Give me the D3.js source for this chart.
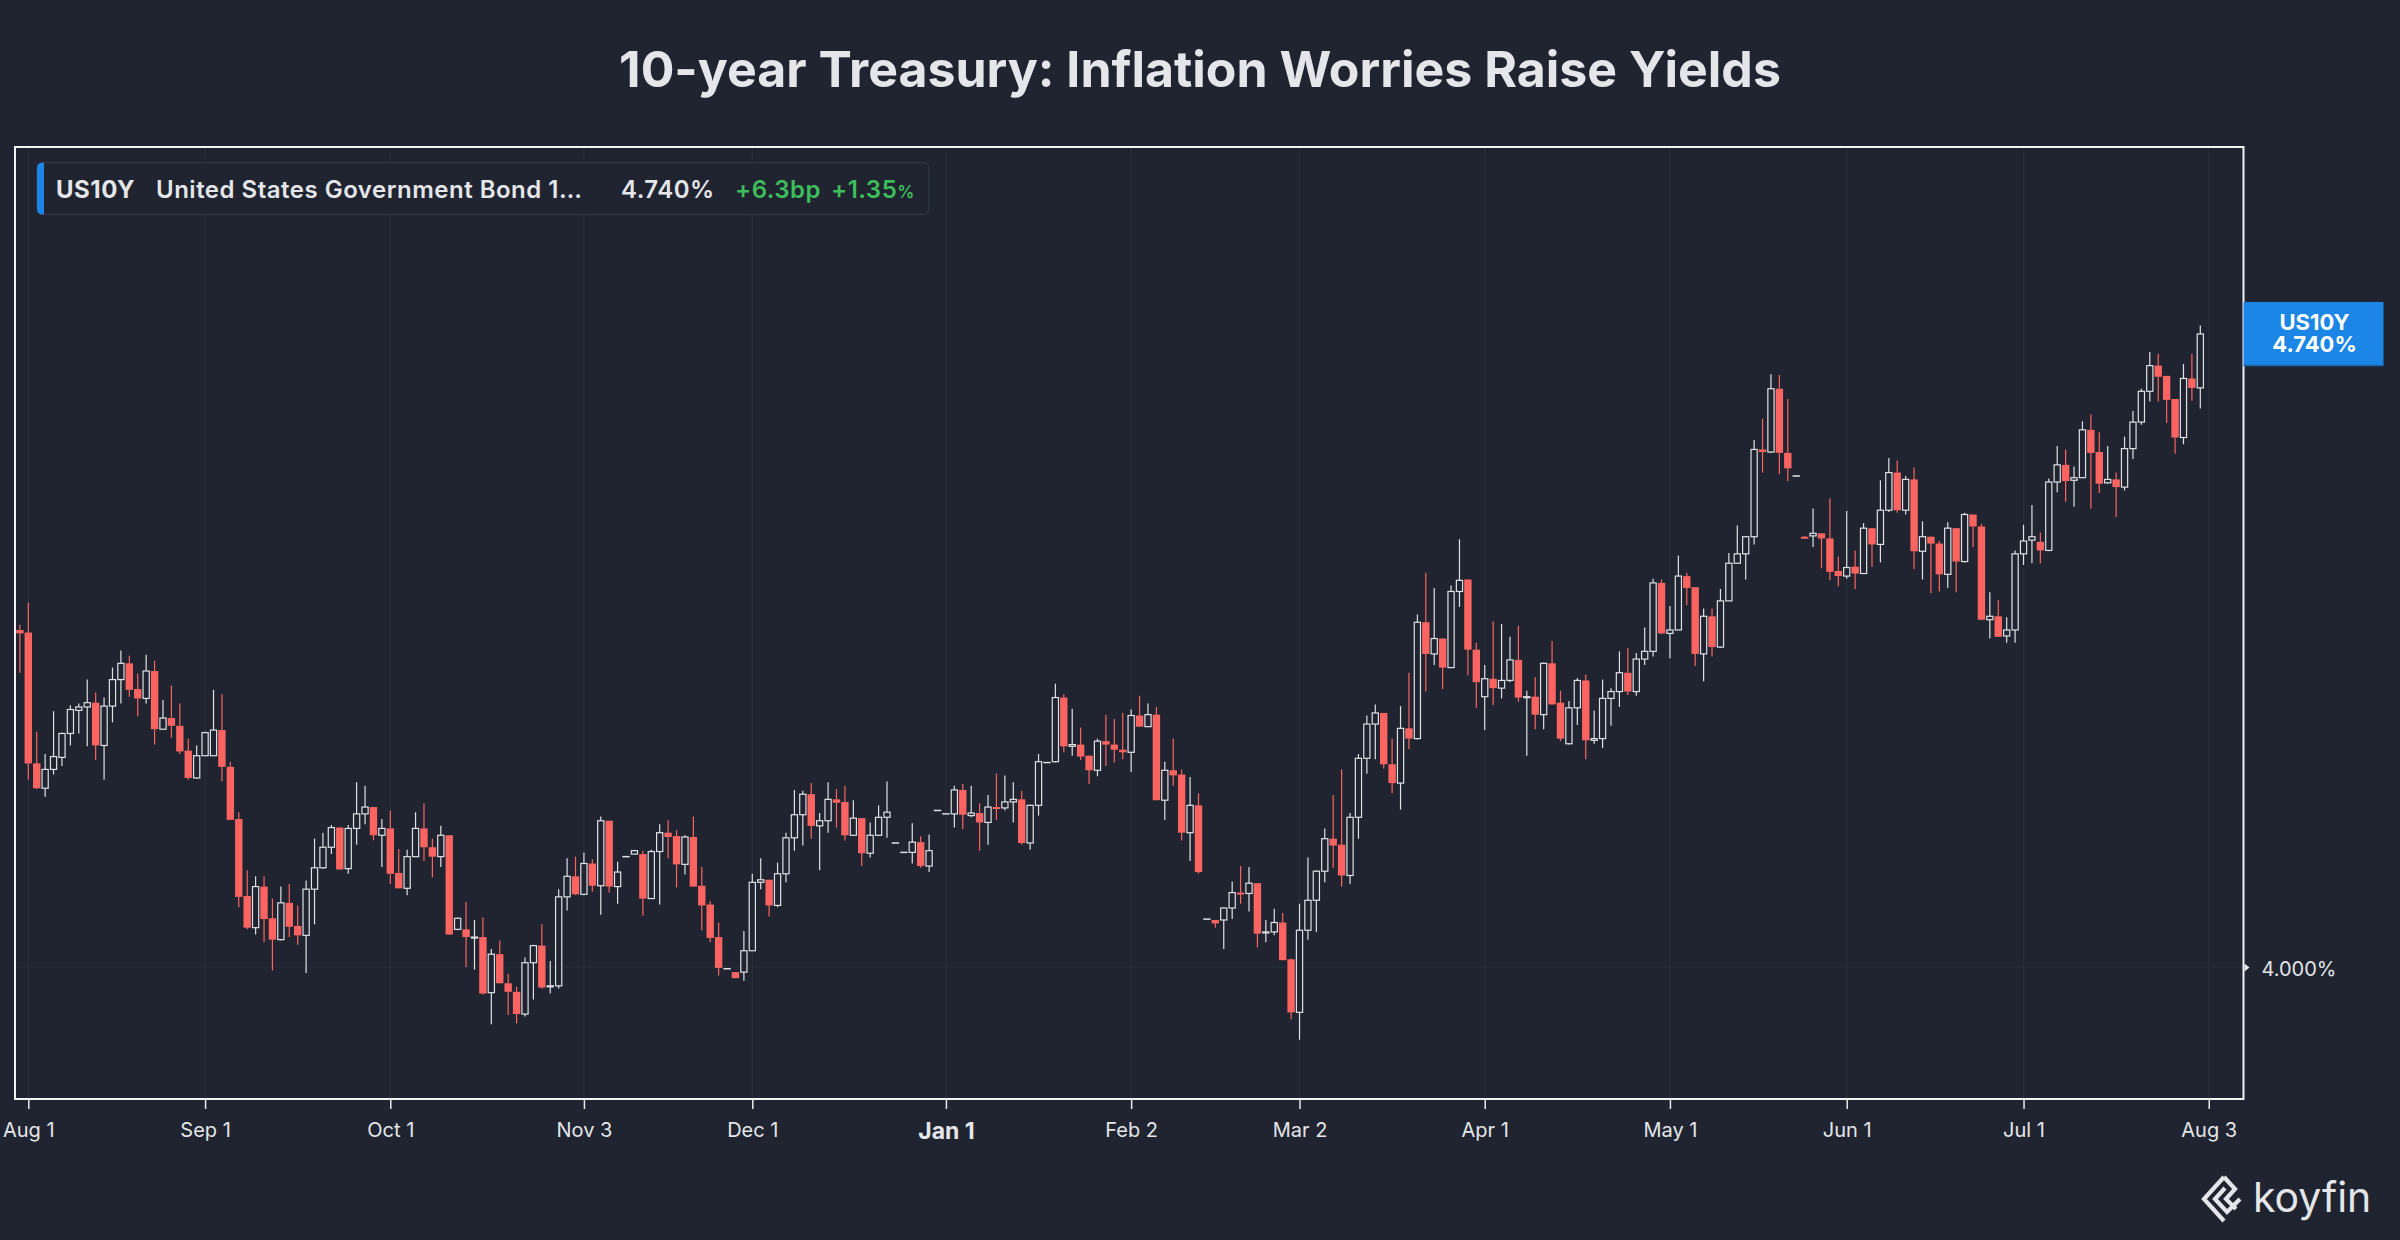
<!DOCTYPE html>
<meta charset="utf-8">
<style>
  body { margin: 0; background: #1f2430; }
  svg { display: block; font-family: Inter, "Noto Sans", sans-serif; }
</style>
<body>
<script src="https://d3js.org/d3.v7.min.js"></script>
<script>
// daily OHLC, one slot per trading day (slot 0 = Jul 31)
var openVals = [
  4.394, 4.391, 4.238, 4.209, 4.231, 4.245, 4.273, 4.300, 4.304, 4.309,
  4.259, 4.305, 4.336, 4.355, 4.325, 4.314, 4.346, 4.278, 4.291, 4.282,
  4.253, 4.221, 4.247, 4.247, 4.277, 4.234, 4.173, 4.083, 4.046, 4.094,
  4.057, 4.032, 4.075, 4.048, 4.037, 4.091, 4.116, 4.140, 4.163, 4.115,
  4.162, 4.179, 4.187, 4.154, 4.162, 4.110, 4.092, 4.129, 4.162, 4.140,
  4.129, 4.154, 4.044, 4.044, 4.035, 4.035, 3.970, 4.015, 3.981, 3.971,
  3.945, 4.005, 4.025, 3.977, 3.978, 4.082, 4.106, 4.085, 4.121, 4.095,
  4.171, 4.094, 4.129, 4.132, 4.132, 4.080, 4.135, 4.157, 4.153, 4.120,
  4.152, 4.095, 4.073, 4.035, 3.998, 3.994, 3.994, 4.019, 4.099, 4.102,
  4.072, 4.109, 4.151, 4.178, 4.202, 4.165, 4.171, 4.196, 4.193, 4.154,
  4.174, 4.133, 4.154, 4.175, 4.145, 4.134, 4.134, 4.146, 4.118, 4.183,
  4.179, 4.179, 4.207, 4.177, 4.180, 4.169, 4.187, 4.186, 4.193, 4.196,
  4.145, 4.189, 4.239, 4.240, 4.315, 4.258, 4.260, 4.247, 4.230, 4.264,
  4.260, 4.254, 4.251, 4.294, 4.281, 4.295, 4.195, 4.230, 4.225, 4.157,
  4.189, 4.056, 4.055, 4.055, 4.069, 4.087, 4.086, 4.098, 4.040, 4.041,
  4.052, 4.009, 3.947, 4.043, 4.078, 4.112, 4.150, 4.143, 4.107, 4.175,
  4.244, 4.284, 4.297, 4.237, 4.215, 4.279, 4.267, 4.403, 4.366, 4.384,
  4.350, 4.439, 4.453, 4.371, 4.316, 4.337, 4.326, 4.335, 4.359, 4.315,
  4.316, 4.295, 4.355, 4.309, 4.261, 4.303, 4.335, 4.265, 4.267, 4.314,
  4.322, 4.344, 4.322, 4.360, 4.369, 4.449, 4.390, 4.394, 4.457, 4.444,
  4.366, 4.410, 4.374, 4.428, 4.472, 4.483, 4.503, 4.605, 4.602, 4.676,
  4.601, 4.574, 4.503, 4.504, 4.507, 4.501, 4.463, 4.457, 4.468, 4.460,
  4.513, 4.494, 4.534, 4.578, 4.534, 4.570, 4.486, 4.503, 4.495, 4.459,
  4.513, 4.474, 4.529, 4.515, 4.406, 4.410, 4.387, 4.394, 4.483, 4.499,
  4.497, 4.487, 4.567, 4.587, 4.569, 4.572, 4.628, 4.602, 4.566, 4.570,
  4.561, 4.606, 4.637, 4.673, 4.703, 4.691, 4.664, 4.619, 4.688, 4.677
];
var highVals = [
  4.400, 4.426, 4.275, 4.249, 4.299, 4.274, 4.306, 4.308, 4.336, 4.321,
  4.315, 4.350, 4.370, 4.364, 4.343, 4.365, 4.358, 4.312, 4.329, 4.308,
  4.267, 4.259, 4.275, 4.324, 4.319, 4.240, 4.181, 4.113, 4.106, 4.106,
  4.080, 4.094, 4.097, 4.072, 4.101, 4.150, 4.157, 4.166, 4.163, 4.166,
  4.216, 4.212, 4.187, 4.173, 4.183, 4.138, 4.137, 4.181, 4.191, 4.150,
  4.165, 4.154, 4.058, 4.076, 4.055, 4.058, 4.021, 4.031, 3.992, 3.977,
  4.011, 4.026, 4.050, 4.007, 4.091, 4.127, 4.129, 4.134, 4.126, 4.176,
  4.171, 4.123, 4.129, 4.137, 4.136, 4.137, 4.167, 4.172, 4.160, 4.154,
  4.176, 4.117, 4.077, 4.052, 3.998, 3.994, 4.042, 4.109, 4.127, 4.102,
  4.122, 4.157, 4.207, 4.206, 4.215, 4.180, 4.216, 4.208, 4.212, 4.195,
  4.174, 4.169, 4.189, 4.217, 4.145, 4.134, 4.168, 4.153, 4.155, 4.183,
  4.179, 4.212, 4.214, 4.212, 4.191, 4.201, 4.226, 4.224, 4.216, 4.206,
  4.190, 4.249, 4.239, 4.331, 4.319, 4.302, 4.280, 4.247, 4.267, 4.295,
  4.290, 4.297, 4.301, 4.317, 4.308, 4.304, 4.240, 4.267, 4.231, 4.222,
  4.203, 4.056, 4.055, 4.070, 4.100, 4.118, 4.117, 4.098, 4.055, 4.068,
  4.063, 4.010, 4.074, 4.128, 4.113, 4.162, 4.201, 4.231, 4.180, 4.249,
  4.294, 4.307, 4.297, 4.267, 4.305, 4.344, 4.412, 4.461, 4.443, 4.384,
  4.446, 4.500, 4.453, 4.379, 4.353, 4.404, 4.401, 4.386, 4.399, 4.323,
  4.339, 4.356, 4.381, 4.323, 4.311, 4.338, 4.342, 4.300, 4.336, 4.326,
  4.369, 4.373, 4.367, 4.397, 4.454, 4.453, 4.422, 4.481, 4.461, 4.444,
  4.419, 4.419, 4.442, 4.484, 4.516, 4.504, 4.616, 4.641, 4.693, 4.692,
  4.664, 4.574, 4.504, 4.536, 4.507, 4.548, 4.480, 4.533, 4.487, 4.519,
  4.513, 4.569, 4.595, 4.592, 4.574, 4.584, 4.521, 4.503, 4.498, 4.520,
  4.513, 4.531, 4.529, 4.518, 4.438, 4.429, 4.409, 4.487, 4.517, 4.540,
  4.508, 4.571, 4.609, 4.605, 4.585, 4.638, 4.646, 4.625, 4.609, 4.578,
  4.620, 4.650, 4.676, 4.719, 4.717, 4.691, 4.664, 4.705, 4.717, 4.750
];
var lowVals = [
  4.344, 4.219, 4.208, 4.199, 4.225, 4.235, 4.259, 4.273, 4.258, 4.242,
  4.219, 4.286, 4.308, 4.316, 4.293, 4.308, 4.260, 4.277, 4.268, 4.249,
  4.219, 4.220, 4.247, 4.247, 4.217, 4.172, 4.070, 4.044, 4.038, 4.029,
  3.996, 4.031, 4.035, 4.026, 3.993, 4.050, 4.115, 4.132, 4.114, 4.109,
  4.143, 4.167, 4.148, 4.117, 4.097, 4.092, 4.084, 4.129, 4.124, 4.105,
  4.117, 4.038, 4.043, 4.000, 3.997, 3.968, 3.933, 3.981, 3.944, 3.934,
  3.942, 3.962, 3.975, 3.969, 3.975, 4.066, 4.084, 4.084, 4.088, 4.061,
  4.087, 4.074, 4.129, 4.132, 4.060, 4.080, 4.073, 4.127, 4.093, 4.108,
  4.094, 4.043, 4.029, 3.990, 3.998, 3.987, 3.984, 4.019, 4.091, 4.059,
  4.070, 4.099, 4.136, 4.142, 4.150, 4.113, 4.157, 4.163, 4.148, 4.154,
  4.118, 4.128, 4.153, 4.151, 4.145, 4.134, 4.121, 4.116, 4.111, 4.183,
  4.179, 4.163, 4.161, 4.175, 4.136, 4.143, 4.172, 4.183, 4.169, 4.143,
  4.137, 4.177, 4.239, 4.239, 4.251, 4.247, 4.242, 4.214, 4.223, 4.235,
  4.239, 4.243, 4.228, 4.281, 4.281, 4.195, 4.172, 4.212, 4.148, 4.124,
  4.109, 4.056, 4.046, 4.021, 4.056, 4.074, 4.065, 4.023, 4.029, 4.037,
  4.008, 3.939, 3.915, 4.032, 4.041, 4.099, 4.116, 4.094, 4.097, 4.150,
  4.226, 4.243, 4.232, 4.203, 4.184, 4.255, 4.266, 4.322, 4.353, 4.325,
  4.350, 4.421, 4.341, 4.303, 4.277, 4.306, 4.314, 4.333, 4.310, 4.247,
  4.278, 4.278, 4.307, 4.264, 4.260, 4.283, 4.243, 4.261, 4.256, 4.282,
  4.304, 4.318, 4.317, 4.353, 4.363, 4.389, 4.361, 4.394, 4.423, 4.352,
  4.334, 4.363, 4.373, 4.428, 4.471, 4.453, 4.494, 4.578, 4.601, 4.576,
  4.568, 4.574, 4.501, 4.491, 4.466, 4.452, 4.445, 4.454, 4.442, 4.460,
  4.468, 4.473, 4.532, 4.531, 4.529, 4.465, 4.453, 4.437, 4.439, 4.443,
  4.438, 4.473, 4.491, 4.406, 4.384, 4.386, 4.379, 4.379, 4.470, 4.472,
  4.472, 4.486, 4.555, 4.544, 4.538, 4.572, 4.536, 4.554, 4.565, 4.526,
  4.557, 4.594, 4.634, 4.661, 4.661, 4.636, 4.600, 4.611, 4.662, 4.653
];
var closeVals = [
  4.390, 4.238, 4.209, 4.231, 4.246, 4.273, 4.301, 4.304, 4.309, 4.259,
  4.305, 4.336, 4.355, 4.324, 4.314, 4.346, 4.278, 4.291, 4.282, 4.252,
  4.221, 4.247, 4.274, 4.277, 4.234, 4.172, 4.082, 4.046, 4.094, 4.056,
  4.032, 4.075, 4.047, 4.037, 4.091, 4.116, 4.140, 4.163, 4.114, 4.162,
  4.179, 4.187, 4.154, 4.162, 4.109, 4.092, 4.129, 4.162, 4.140, 4.129,
  4.154, 4.038, 4.057, 4.035, 4.035, 3.969, 4.015, 3.981, 3.971, 3.945,
  4.005, 4.025, 3.976, 3.978, 4.082, 4.106, 4.085, 4.121, 4.095, 4.171,
  4.094, 4.111, 4.129, 4.136, 4.080, 4.135, 4.157, 4.152, 4.120, 4.152,
  4.094, 4.072, 4.034, 3.999, 3.998, 3.987, 4.019, 4.099, 4.102, 4.072,
  4.109, 4.151, 4.178, 4.202, 4.165, 4.171, 4.196, 4.192, 4.154, 4.174,
  4.133, 4.154, 4.175, 4.181, 4.145, 4.134, 4.146, 4.118, 4.136, 4.183,
  4.179, 4.207, 4.178, 4.180, 4.169, 4.187, 4.186, 4.193, 4.196, 4.145,
  4.189, 4.240, 4.239, 4.315, 4.258, 4.260, 4.246, 4.230, 4.264, 4.260,
  4.254, 4.251, 4.294, 4.281, 4.295, 4.195, 4.230, 4.224, 4.157, 4.189,
  4.111, 4.056, 4.051, 4.069, 4.087, 4.086, 4.098, 4.039, 4.041, 4.052,
  4.008, 3.947, 4.043, 4.078, 4.112, 4.150, 4.142, 4.107, 4.175, 4.244,
  4.284, 4.297, 4.237, 4.215, 4.279, 4.267, 4.403, 4.366, 4.384, 4.350,
  4.439, 4.452, 4.371, 4.333, 4.337, 4.326, 4.335, 4.359, 4.315, 4.316,
  4.295, 4.355, 4.307, 4.267, 4.303, 4.335, 4.265, 4.267, 4.314, 4.322,
  4.344, 4.322, 4.360, 4.369, 4.449, 4.390, 4.394, 4.457, 4.443, 4.366,
  4.410, 4.374, 4.428, 4.472, 4.483, 4.503, 4.605, 4.602, 4.676, 4.601,
  4.583, 4.574, 4.501, 4.507, 4.501, 4.462, 4.457, 4.467, 4.460, 4.513,
  4.494, 4.534, 4.578, 4.534, 4.570, 4.486, 4.503, 4.495, 4.459, 4.513,
  4.474, 4.529, 4.515, 4.406, 4.410, 4.386, 4.394, 4.483, 4.498, 4.503,
  4.487, 4.567, 4.587, 4.568, 4.572, 4.628, 4.601, 4.565, 4.570, 4.561,
  4.606, 4.637, 4.673, 4.703, 4.690, 4.663, 4.619, 4.688, 4.677, 4.740
];

var tickLabels = ["Aug 1", "Sep 1", "Oct 1", "Nov 3", "Dec 1", "Jan 1", "Feb 2",
                  "Mar 2", "Apr 1", "May 1", "Jun 1", "Jul 1", "Aug 3"];
var tickSlots = [1, 22, 44, 67, 87, 110, 132, 152, 174, 196, 217, 238, 260];
var yearLabel = "Jan 1";
var yTicks = [4.0];

var ticker = "US10Y";
var seriesName = "United States Government Bond 1\u2026";
var title = "10-year Treasury: Inflation Worries Raise Yields";

var width = 2400, height = 1240;
var plot = {left: 15, right: 2243.5, top: 147, bottom: 1099};

var bg = "#1f2430";
var red = "#fb6461";
var white = "#dfe1e6";
var blue = "#1b86e6";
var green = "#3ebd5b";
var textCol = "#e4e6ea";

var candles = openVals.map(function(o, i) {
  return {slot: i, o: o, h: highVals[i], l: lowVals[i], c: closeVals[i]};
});

var svg = d3.select("body").append("svg")
  .attr("width", width)
  .attr("height", height);

svg.append("rect").attr("width", width).attr("height", height).attr("fill", bg);

var x = d3.scaleLinear().domain([-0.58, 264.13]).range([plot.left, plot.right]);
var y = d3.scaleLinear().domain([3.8457, 4.9586]).range([plot.bottom, plot.top]);

// grid
svg.append("g").selectAll("line")
  .data(tickSlots)
  .enter().append("line")
  .attr("x1", function(d) { return x(d); })
  .attr("x2", function(d) { return x(d); })
  .attr("y1", plot.top)
  .attr("y2", plot.bottom)
  .attr("stroke", "#272c37")
  .attr("stroke-width", 1.5);
svg.append("g").selectAll("line")
  .data(yTicks)
  .enter().append("line")
  .attr("x1", plot.left)
  .attr("x2", plot.right)
  .attr("y1", function(d) { return y(d); })
  .attr("y2", function(d) { return y(d); })
  .attr("stroke", "#272c37")
  .attr("stroke-width", 1.5);

// candles
svg.append("clipPath").attr("id", "plotclip")
  .append("rect")
  .attr("x", plot.left).attr("y", plot.top)
  .attr("width", plot.right - plot.left).attr("height", plot.bottom - plot.top);

var bodyW = 7.4;
var cg = svg.append("g").attr("clip-path", "url(#plotclip)");

var flat = function(d) { return d.o == d.h && d.h == d.l && d.l == d.c; };
var down = function(d) { return d.c < d.o; };

cg.selectAll("line.wick")
  .data(candles.filter(function(d) { return !flat(d); }))
  .enter().append("line")
  .attr("class", "wick")
  .attr("x1", function(d) { return x(d.slot); })
  .attr("x2", function(d) { return x(d.slot); })
  .attr("y1", function(d) { return y(d.h); })
  .attr("y2", function(d) { return y(d.l); })
  .attr("stroke", function(d) { return down(d) ? red : white; })
  .attr("stroke-width", 1.2);

cg.selectAll("rect.down")
  .data(candles.filter(function(d) { return !flat(d) && down(d); }))
  .enter().append("rect")
  .attr("class", "down")
  .attr("x", function(d) { return x(d.slot) - bodyW / 2; })
  .attr("width", bodyW)
  .attr("y", function(d) { return y(d.o); })
  .attr("height", function(d) { return Math.max(2, y(d.c) - y(d.o)); })
  .attr("fill", red);

cg.selectAll("rect.up")
  .data(candles.filter(function(d) { return !flat(d) && !down(d); }))
  .enter().append("rect")
  .attr("class", "up")
  .attr("x", function(d) { return x(d.slot) - (bodyW - 1.2) / 2; })
  .attr("width", bodyW - 1.2)
  .attr("y", function(d) { return y(d.c); })
  .attr("height", function(d) { return Math.max(1, y(d.o) - y(d.c)); })
  .attr("fill", bg)
  .attr("stroke", white)
  .attr("stroke-width", 1.2);

cg.selectAll("line.flat")
  .data(candles.filter(flat))
  .enter().append("line")
  .attr("class", "flat")
  .attr("x1", function(d) { return x(d.slot) - bodyW / 2; })
  .attr("x2", function(d) { return x(d.slot) + bodyW / 2; })
  .attr("y1", function(d) { return y(d.c); })
  .attr("y2", function(d) { return y(d.c); })
  .attr("stroke", white)
  .attr("stroke-width", 1.5);

// frame
svg.append("rect")
  .attr("x", plot.left).attr("y", plot.top)
  .attr("width", plot.right - plot.left).attr("height", plot.bottom - plot.top)
  .attr("fill", "none")
  .attr("stroke", "#f2f3f5")
  .attr("stroke-width", 2);

// x axis
var xAxis = d3.axisBottom(x)
  .tickValues(tickSlots)
  .tickFormat(function(d, i) { return tickLabels[i]; })
  .tickSize(10)
  .tickPadding(14);
var gx = svg.append("g")
  .attr("transform", "translate(0," + plot.bottom + ")")
  .call(xAxis);
gx.select(".domain").remove();
gx.selectAll(".tick line").attr("stroke", "#e8e9ec").attr("stroke-width", 1.5);
gx.selectAll(".tick text")
  .attr("fill", textCol)
  .attr("font-family", "Inter, 'Noto Sans', sans-serif")
  .attr("font-size", function(d, i) { return tickLabels[i] == yearLabel ? 23 : 20; })
  .attr("font-weight", function(d, i) { return tickLabels[i] == yearLabel ? 700 : 400; });

// y axis (right)
var yAxis = d3.axisRight(y)
  .tickValues(yTicks)
  .tickFormat(function(d) { return d3.format(".3f")(d) + "%"; })
  .tickSize(0)
  .tickPadding(18);
var gy = svg.append("g")
  .attr("transform", "translate(" + plot.right + ",0)")
  .call(yAxis);
gy.select(".domain").remove();
gy.selectAll(".tick text")
  .attr("fill", textCol)
  .attr("font-family", "Inter, 'Noto Sans', sans-serif")
  .attr("font-size", 20)
  .attr("dy", "0.4em");
gy.selectAll(".tick").append("path")
  .attr("d", "M1,-4 L6,0 L1,4 Z")
  .attr("fill", "#e8e9ec");

// last value label
var last = candles[candles.length - 1];
var prev = candles[candles.length - 2];
var ly = y(last.c);
var lab = svg.append("g");
lab.append("rect")
  .attr("x", plot.right).attr("y", ly - 32)
  .attr("width", 140).attr("height", 64)
  .attr("fill", blue);
lab.append("line")
  .attr("x1", plot.right).attr("x2", plot.right + 140)
  .attr("y1", ly + 31.5).attr("y2", ly + 31.5)
  .attr("stroke", "#1764b0").attr("stroke-width", 1.5);
lab.append("text")
  .attr("x", plot.right + 71).attr("y", ly - 4)
  .attr("text-anchor", "middle")
  .attr("fill", "#ffffff").attr("font-size", 22).attr("font-weight", 700)
  .text(ticker);
lab.append("text")
  .attr("x", plot.right + 71).attr("y", ly + 18)
  .attr("text-anchor", "middle")
  .attr("fill", "#ffffff").attr("font-size", 22).attr("font-weight", 700)
  .text(d3.format(".3f")(last.c) + "%");

// legend
var chgBp = (last.c - prev.c) * 100;
var chgPct = (last.c - prev.c) / prev.c * 100;
var lg = svg.append("g")
  .attr("font-size", 24)
  .attr("font-weight", 700)
  .attr("letter-spacing", 0.5);
lg.append("rect")
  .attr("x", 37).attr("y", 162.5).attr("width", 892).attr("height", 52)
  .attr("rx", 6)
  .attr("fill", bg)
  .attr("stroke", "#2e3441").attr("stroke-width", 1.5);
lg.append("path")
  .attr("d", "M44,162.5 L43,162.5 Q37,162.5 37,168.5 L37,208.5 Q37,214.5 43,214.5 L44,214.5 Z")
  .attr("fill", blue);
var legendBase = 197.5;
lg.append("text").attr("x", 56).attr("y", legendBase)
  .attr("fill", textCol)
  .text(ticker);
lg.append("text").attr("x", 156).attr("y", legendBase)
  .attr("fill", textCol).attr("font-weight", 600)
  .text(seriesName);
lg.append("text").attr("x", 621).attr("y", legendBase)
  .attr("fill", textCol).attr("font-weight", 600)
  .text(d3.format(".3f")(last.c) + "%");
lg.append("text").attr("x", 735).attr("y", legendBase)
  .attr("fill", green).attr("font-weight", 600)
  .text("+" + d3.format(".1f")(chgBp) + "bp");
var pctText = lg.append("text").attr("x", 831).attr("y", legendBase)
  .attr("fill", green).attr("font-weight", 600);
pctText.append("tspan").text("+" + d3.format(".2f")(chgPct));
pctText.append("tspan").attr("font-size", 17).text("%");

// title
svg.append("text")
  .attr("x", 1200).attr("y", 87)
  .attr("text-anchor", "middle")
  .attr("fill", textCol)
  .attr("font-size", 50)
  .attr("font-weight", 700)
  .text(title);

// koyfin mark
var logo = svg.append("g")
  .attr("fill", "none")
  .attr("stroke", textCol)
  .attr("stroke-width", 4.2)
  .attr("stroke-linejoin", "miter");
logo.append("path").attr("d", "M2224,1177 L2204,1199 L2224,1221");
logo.append("path").attr("d", "M2224,1177 L2235,1189 L2226,1199 L2236,1209");
logo.append("path").attr("d", "M2225,1188 L2215,1199 L2227,1212 L2240,1199");
svg.append("text")
  .attr("x", 2253).attr("y", 1212)
  .attr("fill", textCol)
  .attr("font-size", 41)
  .attr("font-weight", 400)
  .text("koyfin");
</script>
</body>
